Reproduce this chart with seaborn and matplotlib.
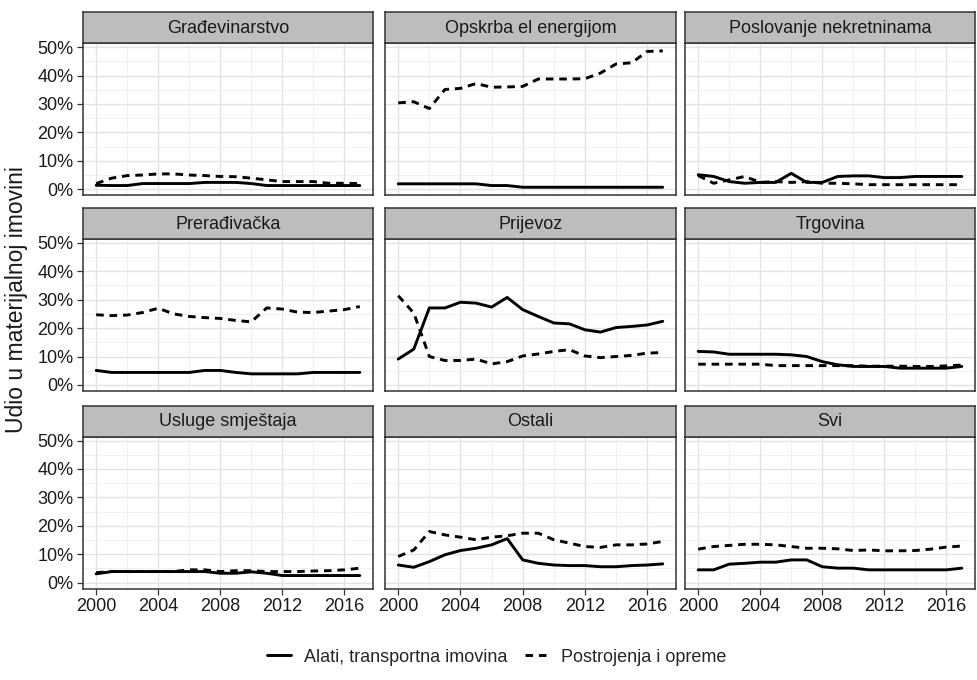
import matplotlib
matplotlib.use("Agg")
import matplotlib.pyplot as plt
import seaborn as sns
import pandas as pd
from matplotlib.lines import Line2D
from matplotlib.ticker import FixedLocator

# ---------------- data ----------------
years = list(range(2000, 2018))
sectors = ["Građevinarstvo", "Opskrba el energijom", "Poslovanje nekretninama",
           "Prerađivačka", "Prijevoz", "Trgovina",
           "Usluge smještaja", "Ostali", "Svi"]
series_names = ["Alati, transportna imovina", "Postrojenja i opreme"]
y_ticks = [0, 10, 20, 30, 40, 50]
y_tick_labels = ["0%", "10%", "20%", "30%", "40%", "50%"]
x_ticks = [2000, 2004, 2008, 2012, 2016]
y_label = "Udio u materijalnoj imovini"

# values in percent, 2000..2017
alati_gradevinarstvo = [1.4, 1.3, 1.3, 2.0, 2.0, 2.0, 2.0, 2.4, 2.4, 2.4, 2.0, 1.3, 1.3, 1.3, 1.3, 1.3, 1.3, 1.3]
postr_gradevinarstvo = [2.0, 3.9, 4.8, 5.0, 5.4, 5.4, 5.0, 4.8, 4.5, 4.4, 3.9, 3.3, 2.7, 2.7, 2.7, 2.1, 2.1, 2.0]

alati_opskrba = [1.9, 1.9, 1.9, 1.9, 1.9, 1.9, 1.3, 1.3, 0.7, 0.7, 0.7, 0.7, 0.7, 0.7, 0.7, 0.7, 0.7, 0.7]
postr_opskrba = [30.4, 30.8, 28.4, 35.1, 35.5, 37.2, 35.9, 36.0, 36.2, 38.8, 38.8, 38.8, 38.9, 40.9, 44.1, 44.5, 48.5, 48.7]

alati_nekretnine = [5.1, 4.5, 2.7, 2.1, 2.4, 2.4, 5.6, 2.4, 2.4, 4.5, 4.7, 4.7, 4.1, 4.1, 4.5, 4.5, 4.5, 4.5]
postr_nekretnine = [4.8, 2.1, 3.3, 4.5, 2.4, 2.7, 2.4, 2.7, 2.1, 2.1, 1.9, 1.6, 1.6, 1.6, 1.6, 1.6, 1.6, 1.6]

alati_preradivacka = [5.1, 4.4, 4.4, 4.4, 4.4, 4.4, 4.4, 5.1, 5.1, 4.4, 3.9, 3.9, 3.9, 3.9, 4.4, 4.4, 4.4, 4.4]
postr_preradivacka = [24.7, 24.4, 24.6, 25.5, 27.0, 25.0, 24.1, 23.7, 23.4, 22.7, 22.2, 27.1, 26.7, 25.6, 25.5, 26.0, 26.5, 27.6]

alati_prijevoz = [9.1, 12.6, 27.1, 27.1, 29.1, 28.8, 27.4, 30.8, 26.5, 24.1, 21.8, 21.5, 19.4, 18.6, 20.2, 20.6, 21.1, 22.4]
postr_prijevoz = [31.4, 25.3, 10.0, 8.6, 8.6, 9.1, 7.4, 8.2, 10.2, 10.9, 11.8, 12.4, 10.2, 9.6, 10.0, 10.4, 11.2, 11.4]

alati_trgovina = [11.8, 11.6, 10.8, 10.8, 10.8, 10.8, 10.6, 10.0, 8.2, 7.1, 6.5, 6.5, 6.5, 5.9, 5.9, 5.9, 5.9, 6.5]
postr_trgovina = [7.3, 7.3, 7.3, 7.3, 7.3, 6.8, 6.8, 6.8, 6.8, 6.8, 6.8, 6.6, 6.6, 6.6, 6.5, 6.5, 6.7, 7.0]

alati_smjestaj = [3.1, 3.9, 3.9, 3.9, 3.9, 3.9, 3.9, 3.9, 3.3, 3.3, 3.8, 3.3, 2.5, 2.5, 2.5, 2.5, 2.5, 2.5]
postr_smjestaj = [3.5, 3.9, 3.9, 3.9, 3.9, 3.9, 4.5, 4.5, 3.9, 4.2, 4.2, 3.9, 3.9, 3.9, 4.1, 4.2, 4.5, 5.1]

alati_ostali = [6.2, 5.4, 7.4, 9.8, 11.3, 12.1, 13.3, 15.5, 8.0, 6.8, 6.2, 6.0, 6.0, 5.6, 5.6, 6.0, 6.2, 6.6]
postr_ostali = [9.2, 11.5, 18.0, 16.8, 16.0, 15.1, 16.0, 16.5, 17.4, 17.4, 15.1, 13.9, 12.7, 12.4, 13.3, 13.3, 13.6, 14.5]

alati_svi = [4.5, 4.5, 6.5, 6.8, 7.2, 7.2, 8.0, 8.0, 5.6, 5.1, 5.1, 4.5, 4.5, 4.5, 4.5, 4.5, 4.5, 5.1]
postr_svi = [11.8, 12.7, 13.1, 13.5, 13.5, 13.3, 12.7, 12.1, 12.1, 11.9, 11.3, 11.5, 11.2, 11.2, 11.3, 11.8, 12.5, 12.9]

alati_all = [alati_gradevinarstvo, alati_opskrba, alati_nekretnine, alati_preradivacka,
             alati_prijevoz, alati_trgovina, alati_smjestaj, alati_ostali, alati_svi]
postr_all = [postr_gradevinarstvo, postr_opskrba, postr_nekretnine, postr_preradivacka,
             postr_prijevoz, postr_trgovina, postr_smjestaj, postr_ostali, postr_svi]

rows = []
for s, a, p in zip(sectors, alati_all, postr_all):
    for y, va, vp in zip(years, a, p):
        rows.append((s, y, series_names[0], va))
        rows.append((s, y, series_names[1], vp))
df = pd.DataFrame(rows, columns=["sektor", "godina", "vrsta", "udio"])

# ---------------- style ----------------
sns.set_theme(style="white")
plt.rcParams["font.family"] = ["Liberation Sans", "DejaVu Sans"]

W, H = 977, 680
fig = plt.figure(figsize=(W / 100, H / 100), dpi=100)

col_x = [(83, 373), (385, 676), (685, 975)]
row_bottoms = [195.2, 390.9, 588.6]
panel_h = 152
strip_h = 31

FS = 13
dash_style = (0, (2.6, 2.0))
LW = 2.1

for i, s in enumerate(sectors):
    r, c = divmod(i, 3)
    x0, x1 = col_x[c]
    yb = row_bottoms[r]
    ax = fig.add_axes([x0 / W, 1 - yb / H, (x1 - x0) / W, panel_h / H])
    sub = df[df["sektor"] == s]
    sns.lineplot(data=sub, x="godina", y="udio", style="vrsta",
                 style_order=series_names, dashes=["", (2.6, 2.0)],
                 color="black", linewidth=LW, ax=ax, legend=False)
    ax.set_xlim(1999.15, 2017.85)
    ax.set_ylim(-2.1, 51.4)
    ax.xaxis.set_major_locator(FixedLocator(x_ticks))
    ax.xaxis.set_minor_locator(FixedLocator([2002, 2006, 2010, 2014]))
    ax.yaxis.set_major_locator(FixedLocator(y_ticks))
    ax.yaxis.set_minor_locator(FixedLocator([5, 15, 25, 35, 45]))
    ax.grid(which="major", color="#E3E3E3", linewidth=1.0)
    ax.grid(which="minor", color="#EEEEEE", linewidth=0.6)
    ax.set_axisbelow(True)
    for sp in ax.spines.values():
        sp.set_color("#333333")
        sp.set_linewidth(1.1)
    ax.set_xlabel("")
    ax.set_ylabel("")
    ax.tick_params(axis="both", which="major", length=4.5, width=0.9, color="#333333",
                   labelsize=FS, labelcolor="#1a1a1a", pad=2.5)
    ax.tick_params(axis="both", which="minor", length=0)
    if c == 0:
        ax.set_yticklabels(y_tick_labels)
        ax.tick_params(axis="y", left=True)
    else:
        ax.tick_params(axis="y", left=False, labelleft=False)
    if r == 2:
        ax.set_xticklabels([str(t) for t in x_ticks])
        ax.tick_params(axis="x", bottom=True)
    else:
        ax.tick_params(axis="x", bottom=False, labelbottom=False)

    # strip
    sax = fig.add_axes([x0 / W, 1 - (yb - panel_h) / H, (x1 - x0) / W, strip_h / H])
    sax.set_facecolor("#BDBDBD")
    sax.set_xticks([])
    sax.set_yticks([])
    for sp in sax.spines.values():
        sp.set_color("#333333")
        sp.set_linewidth(1.1)
    sax.text(0.5, 0.48, s, ha="center", va="center", fontsize=FS, color="#1a1a1a",
             transform=sax.transAxes)

fig.text(17 / W, 1 - 300 / H, y_label, rotation=90, ha="center", va="center",
         fontsize=16.5, color="#1a1a1a")

handles = [Line2D([0], [0], color="black", linewidth=LW),
           Line2D([0], [0], color="black", linewidth=LW, linestyle=dash_style)]
fig.legend(handles, series_names, loc="center", bbox_to_anchor=(497 / W, 1 - 657 / H),
           ncol=2, frameon=False, fontsize=FS, handlelength=1.3, columnspacing=1.0,
           handletextpad=0.7)

fig.savefig("out.png", dpi=100)
